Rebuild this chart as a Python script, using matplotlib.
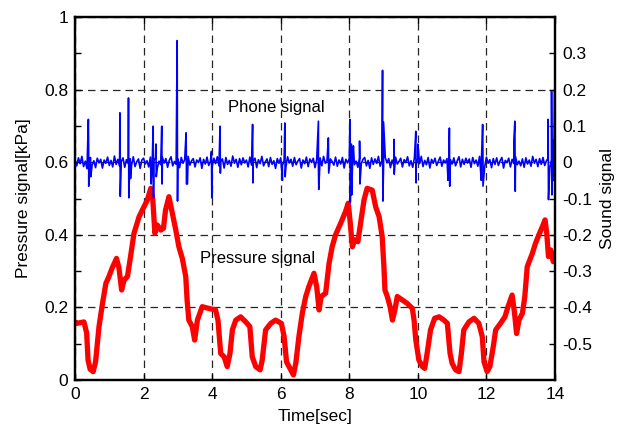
import numpy as np
import matplotlib
matplotlib.use('Agg')
import matplotlib.pyplot as plt

plt.rcParams['font.family'] = ['Liberation Sans', 'DejaVu Sans']

# pressure signal [kPa] (left axis)
pressure_t = [0.0, 0.05, 0.26, 0.34, 0.38, 0.44, 0.53, 0.60, 0.70, 0.80,
              0.90, 0.99, 1.09, 1.21, 1.28, 1.36, 1.43, 1.53, 1.62, 1.72,
              1.87, 2.01, 2.11, 2.21, 2.27, 2.33, 2.40, 2.50, 2.58, 2.64,
              2.74, 2.84, 2.94, 3.03, 3.13, 3.23, 3.27, 3.32, 3.42, 3.49,
              3.57, 3.71, 3.91, 4.10, 4.17, 4.25, 4.35, 4.44, 4.52, 4.59,
              4.69, 4.83, 4.98, 5.10, 5.17, 5.27, 5.40, 5.46, 5.56, 5.71,
              5.85, 6.02, 6.10, 6.17, 6.29, 6.37, 6.44, 6.53, 6.63, 6.73,
              6.82, 6.97, 7.05, 7.12, 7.18, 7.31, 7.41, 7.50, 7.60, 7.75,
              7.89, 7.97, 8.02, 8.09, 8.16, 8.25, 8.33, 8.43, 8.52, 8.67,
              8.77, 8.87, 8.96, 9.01, 9.04, 9.11, 9.19, 9.26, 9.33, 9.40,
              9.55, 9.69, 9.84, 9.89, 9.94, 10.03, 10.13, 10.20, 10.27, 10.37,
              10.49, 10.62, 10.76, 10.86, 10.94, 11.00, 11.10, 11.20, 11.27, 11.34,
              11.49, 11.64, 11.78, 11.88, 11.93, 12.02, 12.10, 12.20, 12.27, 12.41,
              12.54, 12.63, 12.75, 12.82, 12.88, 12.95, 13.05, 13.12, 13.19, 13.34,
              13.43, 13.53, 13.63, 13.71, 13.76, 13.81, 13.88, 13.95, 14.0]
pressure_v = [0.16, 0.156, 0.16, 0.13, 0.055, 0.03, 0.023, 0.05, 0.147, 0.21,
              0.266, 0.285, 0.31, 0.335, 0.31, 0.248, 0.275, 0.285, 0.34, 0.404,
              0.45, 0.477, 0.496, 0.528, 0.496, 0.404, 0.427, 0.413, 0.418, 0.468,
              0.505, 0.459, 0.413, 0.367, 0.335, 0.285, 0.22, 0.165, 0.147, 0.11,
              0.165, 0.202, 0.197, 0.193, 0.165, 0.073, 0.064, 0.037, 0.073, 0.138,
              0.165, 0.174, 0.16, 0.147, 0.064, 0.037, 0.028, 0.055, 0.138, 0.156,
              0.165, 0.156, 0.119, 0.05, 0.028, 0.014, 0.046, 0.119, 0.184, 0.23,
              0.257, 0.294, 0.257, 0.193, 0.23, 0.239, 0.321, 0.367, 0.40, 0.432,
              0.464, 0.487, 0.441, 0.367, 0.386, 0.381, 0.432, 0.496, 0.528, 0.523,
              0.477, 0.45, 0.395, 0.312, 0.248, 0.23, 0.202, 0.165, 0.193, 0.23,
              0.22, 0.211, 0.197, 0.165, 0.11, 0.055, 0.037, 0.032, 0.073, 0.138,
              0.17, 0.174, 0.165, 0.156, 0.073, 0.046, 0.028, 0.023, 0.073, 0.138,
              0.16, 0.17, 0.156, 0.119, 0.05, 0.023, 0.037, 0.092, 0.138, 0.156,
              0.174, 0.202, 0.234, 0.184, 0.128, 0.165, 0.184, 0.23, 0.312, 0.349,
              0.376, 0.40, 0.422, 0.441, 0.404, 0.34, 0.358, 0.326, 0.34]

# phone (sound) signal, right axis: baseline samples every 0.05 s
phone_dt = 0.05
phone_base = [
    0.006, -0.010, 0.012, -0.004, 0.016, -0.012, 0.003, -0.018, 0.009, 0.013, -0.007, 0.004, -0.015, 0.011, -0.002, 0.008, -0.016, 0.006, -0.003, 0.014,
    -0.009, 0.005, -0.013, 0.017, -0.006, 0.008, -0.011, 0.002, 0.012, -0.014, 0.007, -0.003, 0.010, -0.008, 0.015, -0.012, 0.001, 0.009, -0.017, 0.006,
    0.011, -0.005, 0.004, -0.013, 0.014, -0.009, 0.006, 0.012, -0.016, 0.003, -0.007, 0.013, -0.002, 0.010, -0.014, 0.005, 0.015, -0.010, 0.002, -0.006,
    0.009, -0.015, 0.013, -0.003, 0.007, -0.011, 0.016, -0.008, 0.004, 0.010, -0.013, 0.006, -0.001, 0.012, -0.017, 0.008, -0.005, 0.014, -0.009, 0.003,
    -0.012, 0.011, -0.004, 0.015, -0.010, 0.002, 0.009, -0.016, 0.013, -0.006, 0.005, -0.011, 0.017, -0.003, 0.008, -0.014, 0.010, -0.007, 0.012, -0.002,
    0.006, -0.013, 0.014, -0.008, 0.003, 0.011, -0.015, 0.007, -0.004, 0.016, -0.010, 0.001, 0.009, -0.012, 0.013, -0.006, 0.004, -0.017, 0.010, -0.003,
    0.012, -0.009, 0.005, -0.014, 0.015, -0.002, 0.008, -0.011, 0.013, -0.007, 0.003, 0.010, -0.016, 0.006, -0.004, 0.014, -0.012, 0.009, -0.001, 0.011,
    -0.015, 0.007, -0.006, 0.012, -0.010, 0.016, -0.003, 0.004, -0.013, 0.009, 0.002, -0.008, 0.014, -0.011, 0.006, -0.005, 0.013, -0.016, 0.008, -0.002,
    0.010, -0.012, 0.015, -0.007, 0.003, -0.014, 0.011, -0.004, 0.008, 0.013, -0.010, 0.005, -0.017, 0.012, -0.006, 0.009, -0.003, 0.016, -0.011, 0.004,
    -0.008, 0.013, -0.002, 0.010, -0.015, 0.006, -0.009, 0.014, -0.005, 0.002, 0.011, -0.013, 0.007, -0.001, 0.015, -0.010, 0.004, -0.014, 0.012, -0.006,
    0.009, -0.004, 0.016, -0.012, 0.005, -0.007, 0.013, -0.016, 0.008, -0.003, 0.011, -0.009, 0.003, 0.014, -0.011, 0.006, -0.002, 0.010, -0.015, 0.007,
    -0.005, 0.012, -0.010, 0.004, 0.015, -0.013, 0.008, -0.006, 0.011, -0.002, 0.009, -0.014, 0.013, -0.004, 0.006, -0.011, 0.016, -0.008, 0.002, -0.012,
    0.014, -0.003, 0.007, -0.015, 0.010, -0.006, 0.012, -0.009, 0.004, 0.013, -0.016, 0.005, -0.001, 0.011, -0.013, 0.008, -0.004, 0.015, -0.007, 0.003,
    -0.010, 0.009, -0.014, 0.012, -0.005, 0.006, -0.011, 0.016, -0.003, 0.008, -0.012, 0.010, -0.006, 0.013, -0.009, 0.004, 0.011, -0.015, 0.007, -0.002,
    0.005]

# spikes on top of the baseline
spike_t = [0.39, 0.40, 0.46, 1.31, 1.32, 1.56, 1.57, 1.62,
           2.22, 2.28, 2.29, 2.36, 2.37, 2.53, 2.54, 2.98, 2.99,
           3.24, 3.25, 3.28, 3.98, 3.99, 4.23, 4.24, 5.18, 5.19,
           6.05, 6.12, 6.13, 7.10, 7.11, 7.39, 7.40,
           8.02, 8.03, 8.06, 8.07, 8.12, 8.30, 8.31, 8.97, 8.98, 9.00,
           9.30, 9.31, 9.94, 9.95, 10.00, 10.88, 10.92, 10.93,
           11.85, 11.89, 11.90, 12.80, 12.83, 12.84,
           13.80, 13.81, 13.90, 13.91, 13.95, 13.96, 13.99]
spike_v = [0.118, -0.066, -0.04, 0.136, -0.094, 0.177, -0.098, -0.045,
           -0.06, 0.099, -0.098, 0.05, -0.04, 0.099, -0.06, 0.335, -0.107,
           0.081, -0.06, -0.06, 0.03, -0.098, 0.099, -0.03, 0.104, -0.057,
           -0.05, 0.108, -0.04, 0.113, -0.075, 0.067, -0.03,
           0.118, -0.11, 0.05, -0.09, 0.045, 0.058, -0.06, 0.253, -0.107, 0.11,
           0.063, -0.033, 0.085, -0.057, 0.05, -0.05, 0.094, -0.066,
           -0.05, 0.104, -0.066, 0.06, 0.113, -0.08,
           0.118, -0.103, 0.196, -0.09, 0.06, -0.05, 0.2]

left_ticks = [0, 0.2, 0.4, 0.6, 0.8, 1]
right_ticks = [-0.5, -0.4, -0.3, -0.2, -0.1, 0, 0.1, 0.2, 0.3]
x_ticks = [0, 2, 4, 6, 8, 10, 12, 14]


def phone_series():
    base_t = np.arange(len(phone_base)) * phone_dt
    t = np.concatenate([base_t, spike_t])
    v = np.concatenate([phone_base, spike_v])
    order = np.argsort(t, kind='stable')
    return t[order], v[order]


def main():
    fig = plt.figure(figsize=(6.24, 4.33), dpi=100)
    ax = fig.add_axes([0.1202, 0.1224, 0.7692, 0.8383])
    ax2 = ax.twinx()

    ax.plot(pressure_t, pressure_v, color='#ff0000', lw=3.8, solid_joinstyle='round')
    t, v = phone_series()
    ax2.plot(t, v, color='#0000ff', lw=1.2)

    ax.set_xlim(0, 14)
    ax.set_ylim(0, 1)
    ax2.set_ylim(-0.6, 0.4)
    ax.set_xticks(x_ticks)
    ax.set_yticks(left_ticks)
    ax.set_yticklabels(['0', '0.2', '0.4', '0.6', '0.8', '1'])
    ax.set_yticks([0.1, 0.3, 0.5, 0.7, 0.9], minor=True)
    ax2.set_yticks(right_ticks)
    ax2.set_yticklabels(['%g' % r for r in right_ticks])

    ax.grid(True, which='major', color='0.15', ls=(0, (6, 4)), lw=0.9)
    ax.tick_params(which='both', direction='in', length=4, width=1,
                   labelsize=12.5, top=True, pad=5)
    ax2.tick_params(direction='in', length=4, width=1, labelsize=12.5, pad=5)
    for a in (ax, ax2):
        for s in a.spines.values():
            s.set_linewidth(1.6)

    ax.set_xlabel('Time[sec]', fontsize=12.5, labelpad=5)
    ax.set_ylabel('Pressure signal[kPa]', fontsize=12.5, labelpad=9)
    ax2.set_ylabel('Sound signal', fontsize=12.5, labelpad=6)

    ax.text(4.45, 0.75, 'Phone signal', fontsize=12, va='center', ha='left')
    ax.text(3.65, 0.336, 'Pressure signal', fontsize=12, va='center', ha='left')

    fig.savefig('out.png', dpi=100)


if __name__ == "__main__":
    main()
